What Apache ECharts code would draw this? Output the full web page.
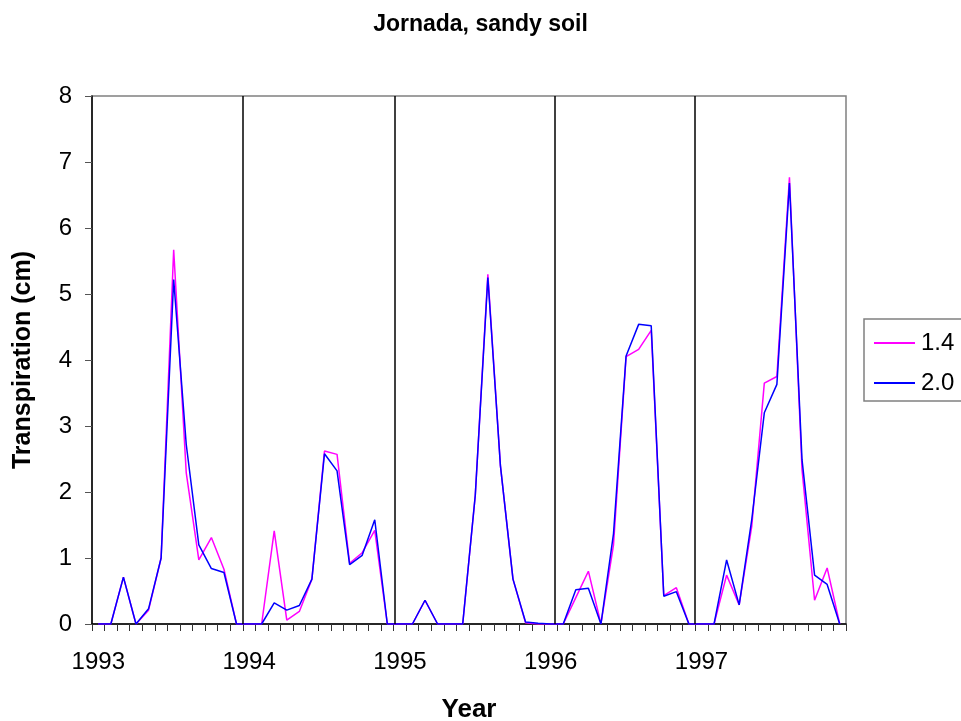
<!DOCTYPE html>
<html>
<head>
<meta charset="utf-8">
<script src="https://cdn.jsdelivr.net/npm/echarts@6/dist/echarts.min.js"></script>
<style>
html,body{margin:0;padding:0;background:#fff;}
#c{width:961px;height:721px;}
</style>
</head>
<body>
<div id="c"></div>
<script>
var years = ['1993', '1994', '1995', '1996', '1997'];
var months = ['01','02','03','04','05','06','07','08','09','10','11','12'];
var seriesNames = ['1.4', '2.0'];
var yTicks = [0, 1, 2, 3, 4, 5, 6, 7, 8];
// year separator lines (position in months from start)
var yearLines = [12, 24.1, 36.85, 48];

var s14 = [
  0, 0, 0.71, 0, 0.21, 1.0, 5.67, 2.29, 0.97, 1.31, 0.83, 0,
  0, 0, 1.41, 0.06, 0.19, 0.68, 2.62, 2.57, 0.92, 1.08, 1.42, 0,
  0, 0, 0.36, 0, 0, 0, 1.95, 5.30, 2.40, 0.68, 0.02, 0,
  0, 0, 0.40, 0.80, 0, 1.20, 4.05, 4.16, 4.45, 0.43, 0.55, 0,
  0, 0, 0.74, 0.29, 1.48, 3.65, 3.75, 6.77, 2.34, 0.36, 0.85, 0
];
var s20 = [
  0, 0, 0.71, 0, 0.23, 1.0, 5.22, 2.72, 1.20, 0.84, 0.78, 0,
  0, 0, 0.32, 0.21, 0.28, 0.68, 2.58, 2.32, 0.90, 1.04, 1.58, 0,
  0, 0, 0.36, 0, 0, 0, 1.95, 5.25, 2.40, 0.68, 0.03, 0.01,
  0, 0, 0.52, 0.54, 0, 1.37, 4.06, 4.54, 4.52, 0.42, 0.49, 0,
  0, 0, 0.97, 0.29, 1.58, 3.20, 3.63, 6.68, 2.49, 0.74, 0.60, 0
];

var categories = [];
years.forEach(function (y) { months.forEach(function (m) { categories.push(y + '-' + m); }); });

var font = 'Arial, "Liberation Sans", sans-serif';
var chart = echarts.init(document.getElementById('c'), null, {renderer: 'canvas'});
chart.setOption({
  animation: false,
  backgroundColor: '#fff',
  title: {
    text: 'Jornada, sandy soil',
    left: 'center',
    top: 8,
    textStyle: {fontFamily: font, fontSize: 23, fontWeight: 'bold', color: '#000'}
  },
  legend: {
    data: seriesNames,
    orient: 'vertical',
    left: 864,
    top: 319,
    icon: 'rect',
    itemWidth: 41,
    itemHeight: 2,
    itemGap: 16,
    padding: [12, 40, 6, 10],
    borderColor: '#808080',
    borderWidth: 1.5,
    textStyle: {fontFamily: font, fontSize: 24, color: '#000', padding: [0, 0, 0, 1]}
  },
  grid: {
    left: 92, right: 115, top: 96, bottom: 97,
    containLabel: false,
    outerBoundsMode: 'none',
    show: true, borderColor: '#808080', borderWidth: 1.5, backgroundColor: 'transparent'
  },
  xAxis: [{
    type: 'category',
    data: categories,
    boundaryGap: true,
    name: 'Year',
    nameLocation: 'middle',
    nameGap: 73,
    nameTextStyle: {fontFamily: font, fontSize: 26, fontWeight: 'bold', color: '#000'},
    axisLine: {lineStyle: {color: '#000', width: 1.5}},
    axisTick: {show: true, interval: 0, length: 7, lineStyle: {color: '#333'}},
    axisLabel: {
      interval: 11, margin: 26,
      fontFamily: font, fontSize: 24, color: '#000',
      formatter: function (v) { return v.slice(0, 4); }
    },
    splitLine: {show: false}
  }, {
    type: 'value', min: 0, max: 60, show: false
  }],
  yAxis: {
    type: 'value',
    min: yTicks[0], max: yTicks[yTicks.length - 1], interval: 1,
    name: 'Transpiration (cm)',
    nameLocation: 'middle',
    nameGap: 56,
    nameTextStyle: {fontFamily: font, fontSize: 25, fontWeight: 'bold', color: '#000'},
    axisLine: {show: true, lineStyle: {color: '#000', width: 1.5}},
    axisTick: {show: true, length: 7, lineStyle: {color: '#555'}},
    axisLabel: {margin: 20, fontFamily: font, fontSize: 24, color: '#000'},
    splitLine: {show: false}
  },
  series: [{
    name: '1.4', type: 'line', data: s14, symbol: 'none',
    lineStyle: {color: '#FF00FF', width: 1.5}, itemStyle: {color: '#FF00FF'}
  }, {
    name: '2.0', type: 'line', data: s20, symbol: 'none',
    lineStyle: {color: '#0000FF', width: 1.5}, itemStyle: {color: '#0000FF'}
  }, {
    name: 'years', type: 'line', xAxisIndex: 1, data: [], symbol: 'none',
    markLine: {
      silent: true, symbol: 'none', label: {show: false},
      lineStyle: {color: '#000', width: 1.5, type: 'solid'},
      data: yearLines.map(function (v) { return {xAxis: v}; })
    }
  }]
});
</script>
</body>
</html>
